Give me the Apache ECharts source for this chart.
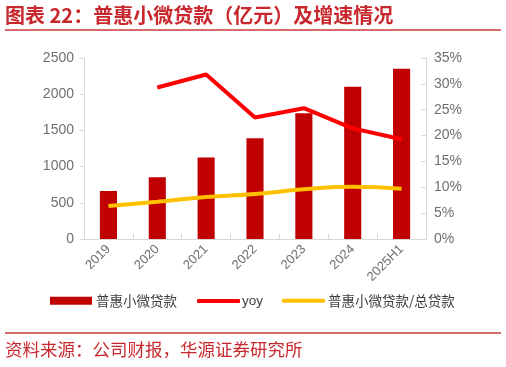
<!DOCTYPE html>
<html>
<head>
<meta charset="utf-8">
<script src="https://cdn.jsdelivr.net/npm/echarts@6/dist/echarts.min.js"></script>
<style>
html,body{margin:0;padding:0;background:#fff;}
#c{width:506px;height:367px;}
</style>
</head>
<body>
<div id="c"></div>
<script>
var categories = ['2019','2020','2021','2022','2023','2024','2025H1'];
var loans = [663, 853, 1124, 1391, 1736, 2104, 2350];
var yoy = [null, 29.3, 31.8, 23.5, 25.3, 21.4, 19.3];
var ratio = [6.4, 7.2, 8.1, 8.7, 9.6, 10.1, 9.7];
var leftTicks = [0, 2500, 500];
var rightTicks = [0, 35, 5];
var titleText = '图表 22：普惠小微贷款（亿元）及增速情况';
var sourceText = '资料来源：公司财报，华源证券研究所';
var seriesNames = ['普惠小微贷款', 'yoy', '普惠小微贷款/总贷款'];

var chart = echarts.init(document.getElementById('c'));
var font = '"Noto Sans CJK SC", "Noto Sans", sans-serif';
var numFont = '"Liberation Sans", Arial, sans-serif';
var axisGray = '#d9d9d9';
var labelGray = '#6f6f6f';
chart.setOption({
  animation: false,
  textStyle: {fontFamily: font},
  title: [
    {text: titleText, left: 5, top: 5, padding: 0, textStyle: {color: '#c8282d', fontSize: 20, fontWeight: 'bold', fontFamily: font}},
    {text: sourceText, left: 5, top: 341, padding: 0, textStyle: {color: '#c8282d', fontSize: 17.5, fontWeight: 'normal', fontFamily: font}}
  ],
  graphic: [
    {type: 'line', shape: {x1: 5, y1: 30, x2: 501, y2: 30}, style: {stroke: '#c8383d', lineWidth: 1.5}},
    {type: 'line', shape: {x1: 5, y1: 333, x2: 501, y2: 333}, style: {stroke: '#c8383d', lineWidth: 1.5}}
  ],
  legend: [
    {data: [seriesNames[0]], left: 50, top: 294, padding: 0, itemWidth: 42, itemHeight: 8, itemGap: 4,
     textStyle: {color: '#404040', fontSize: 13.5, padding: [0, 0, 0, -1]}, icon: 'rect'},
    {data: [seriesNames[1]], left: 197, top: 294, padding: 0, itemWidth: 43, itemHeight: 4,
     textStyle: {color: '#404040', fontSize: 13.5, fontFamily: numFont, padding: [0, 0, 0, -3]}, icon: 'roundRect'},
    {data: [seriesNames[2]], left: 282, top: 294, padding: 0, itemWidth: 43, itemHeight: 4,
     textStyle: {color: '#404040', fontSize: 13.5, padding: [0, 0, 0, -2]}, icon: 'roundRect'}
  ],
  grid: {left: 84, right: 80, top: 58, bottom: 128},
  xAxis: {
    type: 'category', data: categories,
    axisLine: {lineStyle: {color: axisGray}},
    axisTick: {show: true, inside: true, length: 5, lineStyle: {color: axisGray}},
    axisLabel: {rotate: 45, color: labelGray, fontSize: 13, fontFamily: numFont, margin: 8, interval: 0}
  },
  yAxis: [
    {type: 'value', min: leftTicks[0], max: leftTicks[1], interval: leftTicks[2],
     axisLine: {show: true, lineStyle: {color: axisGray}},
     axisTick: {show: true, inside: false, length: 4, lineStyle: {color: axisGray}},
     splitLine: {show: false},
     axisLabel: {color: labelGray, fontSize: 14, fontFamily: numFont, margin: 10,
       formatter: function (v) { return String(v); }}},
    {type: 'value', min: rightTicks[0], max: rightTicks[1], interval: rightTicks[2],
     axisLine: {show: true, lineStyle: {color: axisGray}},
     axisTick: {show: true, inside: true, length: 5, lineStyle: {color: axisGray}},
     splitLine: {show: false},
     axisLabel: {color: labelGray, fontSize: 14, fontFamily: numFont, margin: 8, formatter: '{value}%'}}
  ],
  series: [
    {name: seriesNames[0], type: 'bar', data: loans, barWidth: '35%', itemStyle: {color: '#c00000'}},
    {name: seriesNames[1], type: 'line', yAxisIndex: 1, data: yoy, showSymbol: false, symbol: 'none',
     lineStyle: {color: '#ff0000', width: 4}, itemStyle: {color: '#ff0000'}},
    {name: seriesNames[2], type: 'line', yAxisIndex: 1, data: ratio, smooth: true, showSymbol: false, symbol: 'none',
     lineStyle: {color: '#ffc000', width: 4}, itemStyle: {color: '#ffc000'}}
  ]
});
</script>
</body>
</html>
